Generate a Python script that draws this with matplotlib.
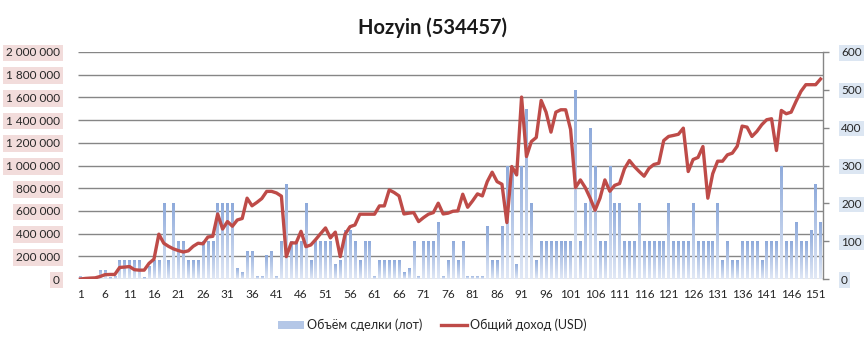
import numpy as np
import matplotlib
matplotlib.use('Agg')
import matplotlib.pyplot as plt
from matplotlib.colors import LinearSegmentedColormap
from matplotlib.patches import Patch
from matplotlib.lines import Line2D

plt.rcParams['font.family'] = ['Lato', 'DejaVu Sans']

title = 'Hozyin (534457)'
volume_label = 'Объём сделки (лот)'
income_label = 'Общий доход (USD)'

# trade volume per period (lots), right axis
volume = [
    8, 0, 0, 0, 25, 25, 4, 9, 50, 50,
    50, 50, 50, 4, 35, 50, 50, 200, 50, 200,
    100, 100, 50, 50, 50, 100, 100, 100, 200, 200,
    200, 200, 30, 19, 75, 75, 8, 8, 63, 75,
    8, 100, 250, 100, 100, 100, 200, 50, 100, 100,
    100, 100, 40, 50, 130, 130, 100, 50, 100, 100,
    8, 50, 50, 50, 50, 50, 18, 29, 100, 8,
    100, 100, 100, 150, 8, 50, 100, 50, 100, 8,
    8, 8, 8, 140, 50, 50, 140, 300, 300, 40,
    300, 450, 200, 50, 100, 100, 100, 100, 100, 100,
    100, 500, 100, 200, 400, 300, 100, 100, 300, 200,
    200, 100, 100, 100, 200, 100, 100, 100, 100, 100,
    200, 100, 100, 100, 100, 200, 100, 100, 100, 100,
    200, 50, 100, 50, 50, 100, 100, 100, 100, 50,
    100, 100, 100, 300, 100, 100, 150, 100, 100, 130,
    250, 150,
]

# total income (USD), left axis
income = [
    0, 5000, 8000, 10000, 22000, 38000, 40000, 40000, 102000, 105000,
    110000, 82000, 78000, 78000, 138000, 175000, 395000, 315000, 287000, 265000,
    250000, 238000, 248000, 288000, 315000, 310000, 370000, 376000, 573000, 440000,
    506000, 465000, 520000, 533000, 712000, 645000, 675000, 709000, 772000, 772000,
    758000, 730000, 197000, 318000, 318000, 420000, 285000, 300000, 348000, 400000,
    450000, 362000, 413000, 197000, 395000, 461000, 476000, 571000, 571000, 571000,
    571000, 644000, 644000, 785000, 762000, 732000, 573000, 580000, 585000, 506000,
    541000, 571000, 585000, 668000, 573000, 580000, 597000, 600000, 747000, 632000,
    688000, 750000, 732000, 858000, 941000, 858000, 835000, 497000, 991000, 917000,
    1603000, 1079000, 1211000, 1247000, 1573000, 1470000, 1294000, 1470000, 1491000, 1491000,
    1318000, 805000, 873000, 805000, 712000, 606000, 712000, 873000, 773000, 825000,
    841000, 972000, 1044000, 991000, 947000, 906000, 975000, 1009000, 1020000, 1220000,
    1256000, 1265000, 1275000, 1329000, 947000, 1053000, 1071000, 1167000, 712000, 928000,
    1038000, 1038000, 1094000, 1109000, 1170000, 1347000, 1338000, 1256000, 1300000, 1359000,
    1403000, 1412000, 1132000, 1485000, 1456000, 1470000, 1565000, 1653000, 1712000, 1712000,
    1712000, 1762000,
]

periods = np.arange(1, len(volume) + 1)
x_ticks = list(range(1, len(volume) + 1, 5))
left_ticks = list(range(0, 2_000_001, 200_000))
right_ticks = list(range(0, 601, 100))
left_max = 2_000_000
right_max = 600

grid_color = '#868686'
text_color = '#262626'
line_color = '#be4b48'

fig = plt.figure(figsize=(8.64, 3.40), dpi=100)
ax = fig.add_axes([78 / 864, 1 - 279 / 340, 745 / 864, 227 / 340])
ax2 = ax.twinx()

# bars (host axes, right scale) with vertical gradient per bar
cmap = LinearSegmentedColormap.from_list('barfill', ['#e2e9f6', '#8eaadb'])
grad = np.linspace(0, 1, 256).reshape(-1, 1)
bars = ax.bar(periods, volume, width=0.5, color='none', edgecolor='none', zorder=2)
for b in bars:
    h = b.get_height()
    if h <= 0:
        continue
    x0 = b.get_x()
    im = ax.imshow(grad, extent=[x0, x0 + b.get_width(), 0, h], origin='lower',
                   aspect='auto', cmap=cmap, zorder=2, interpolation='bilinear')
    im.set_clip_path(b)

# horizontal grid following the left scale, behind the bars
ax.hlines([t * right_max / left_max for t in left_ticks], 0.5, len(volume) + 0.5,
          colors=grid_color, linewidth=1.0, zorder=1)

ax.set_xlim(0.5, len(volume) + 0.5)
ax.set_ylim(0, right_max)
ax.yaxis.tick_right()
ax.yaxis.set_label_position('right')
ax.set_yticks(right_ticks)
ax.set_yticklabels([str(t) for t in right_ticks], fontsize=8.5, color=text_color)
ax.tick_params(axis='y', direction='out', length=4, width=1, color=grid_color, pad=9)
for lbl in ax.get_yticklabels():
    lbl.set_bbox(dict(facecolor='#dce6f2', edgecolor='none', pad=1.5))
ax.set_xticks(x_ticks)
ax.set_xticklabels([str(t) for t in x_ticks], fontsize=8.5, color=text_color)
ax.tick_params(axis='x', length=0, pad=7)
for s in ['left', 'top', 'bottom']:
    ax.spines[s].set_visible(False)
ax.spines['right'].set_color(grid_color)
ax.spines['right'].set_linewidth(1.0)

# income line on twin axes, left scale
ax2.plot(periods, income, color=line_color, linewidth=2.4, solid_joinstyle='round', zorder=3)
ax2.set_xlim(0.5, len(volume) + 0.5)
ax2.set_ylim(0, left_max)
ax2.yaxis.tick_left()
ax2.yaxis.set_label_position('left')
ax2.set_yticks(left_ticks)
ax2.set_yticklabels([f'{t:,}'.replace(',', ' ') for t in left_ticks], fontsize=8.5, color=text_color)
ax2.tick_params(axis='y', length=0, pad=13)
for lbl in ax2.get_yticklabels():
    lbl.set_bbox(dict(facecolor='#f2dcdb', edgecolor='none', pad=2))
for s in ax2.spines.values():
    s.set_visible(False)

fig.text(0.5, 1 - 28 / 340, title, ha='center', va='center', fontsize=14.5,
         fontweight='bold', color='#1a1a1a')

handles = [Patch(facecolor='#b4c7e7', edgecolor='none'),
           Line2D([0], [0], color=line_color, linewidth=2.4)]
fig.legend(handles, [volume_label, income_label], loc='center', ncol=2,
           bbox_to_anchor=(0.5, 1 - 325 / 340), frameon=False, fontsize=9,
           handlelength=2.1, handleheight=0.55, handletextpad=0.2, columnspacing=1.5,
           labelcolor=text_color)

fig.savefig('out.png', dpi=100)
